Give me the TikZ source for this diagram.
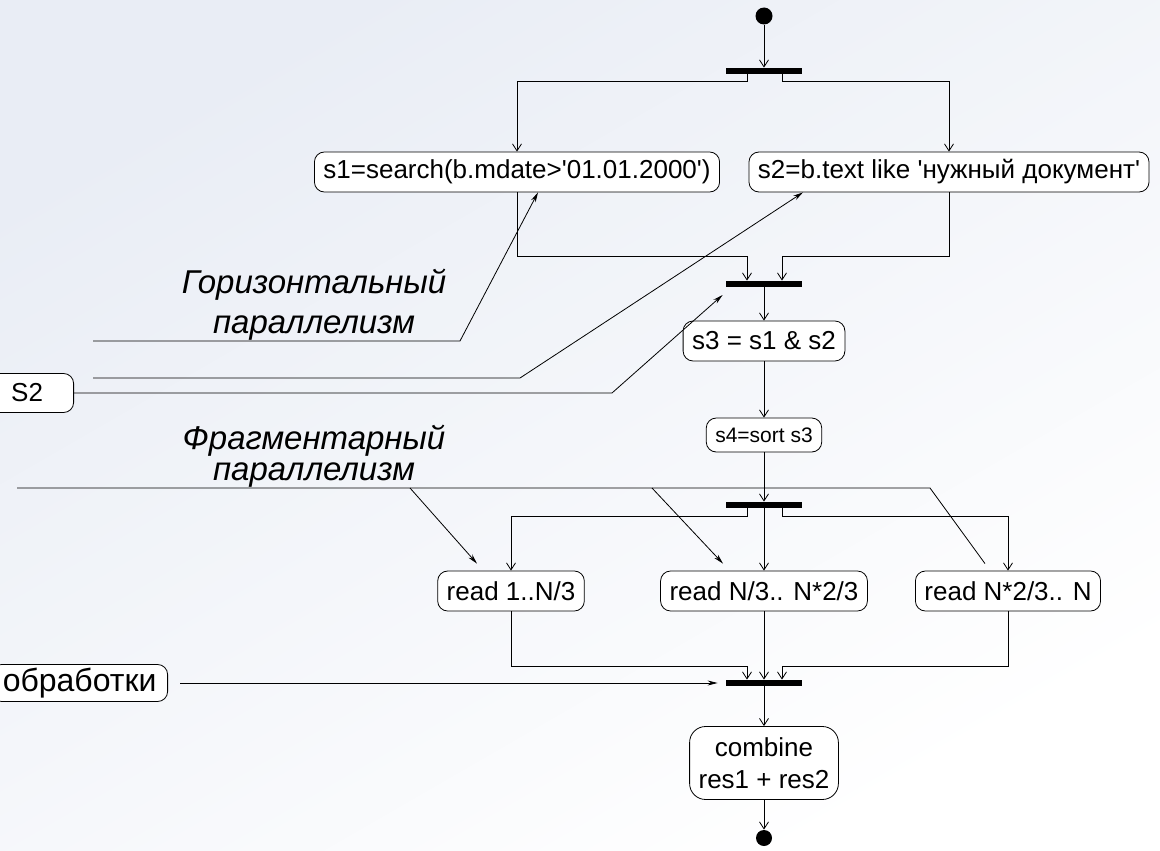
\documentclass[tikz,border=0pt]{standalone}
\usepackage{fontspec}
\setmainfont{Liberation Sans}
\usetikzlibrary{arrows.meta}
\definecolor{bgtop}{RGB}{233,237,245}

\tikzset{
  act/.style={draw,fill=white,rounded corners=10pt,inner xsep=9pt,inner ysep=0pt,minimum height=40pt,font=\fontsize{26}{32}\selectfont},
  bar/.style={fill=black,inner sep=0pt,minimum width=76pt,minimum height=6pt},
  flow/.style={-{Straight Barb[length=7pt,width=9pt]}},
  note/.style={-{Stealth[length=10pt,width=5pt]}},
  dot/.style={circle,fill=black,inner sep=0pt,minimum size=17pt},
  remark/.style={font=\fontsize{33}{31}\selectfont\itshape,align=center}
}

\begin{document}
\begin{tikzpicture}[x=1pt,y=-1pt,line width=0.8pt]
\useasboundingbox (0,0) rectangle (1160,851);
\shade[top color=bgtop,bottom color=white,shading angle=30] (0,0) rectangle (1160,851);
\clip (0,0) rectangle (1160,851);

% main flow
\node[dot] (start) at (764,16) {};
\node[bar] (bar1) at (764,71) {};
\node[act] (s1) at (517,172) {s1=search(b.mdate>\textquotesingle 01.01.2000\textquotesingle)};
\node[act] (s2) at (949,172) {s2=b.text like \textquotesingle нужный документ\textquotesingle};
\node[bar] (bar2) at (764,284) {};
\node[act] (s3) at (764,341) {s3 = s1 \& s2};
\node[act,minimum height=34pt,font=\fontsize{21}{23}\selectfont] (s4) at (764,435) {s4=sort s3};
\node[bar] (bar3) at (764,505) {};
\node[act] (read1) at (511,591) {read 1..N/3};
\node[act] (read2) at (764,591) {read N/3.. N*2/3};
\node[act] (read3) at (1008,591) {read N*2/3.. N};
\node[bar] (bar4) at (764,683) {};
\node[act,rounded corners=16pt,minimum height=73pt,align=center] (comb) at (764,763) {combine\\res1 + res2};
\node[dot,minimum size=16pt] (stop) at (764,838) {};

\draw[flow] (start) -- (bar1);
\draw[flow] ([xshift=-17pt]bar1.south) -- ++(0,7) -| (s1);
\draw[flow] ([xshift=18pt]bar1.south) -- ++(0,7) -| (s2);
\draw[flow] (s1.south) -- ++(0,64) -| ([xshift=-17pt]bar2.north);
\draw[flow] (s2.south) -- ++(0,64) -| ([xshift=18pt]bar2.north);
\draw[flow] (bar2) -- (s3);
\draw[flow] (s3) -- (s4);
\draw[flow] (s4) -- (bar3);
\draw[flow] ([xshift=-17pt]bar3.south) -- ++(0,8) -| (read1);
\draw[flow] (bar3) -- (read2);
\draw[flow] ([xshift=18pt]bar3.south) -- ++(0,8) -| (read3);
\draw[flow] (read1.south) -- ++(0,55) -| ([xshift=-17pt]bar4.north);
\draw[flow] (read2) -- (bar4);
\draw[flow] (read3.south) -- ++(0,55) -| ([xshift=18pt]bar4.north);
\draw[flow] (bar4) -- (comb);
\draw[flow] (comb) -- (stop);

% remarks on the left
\node[remark] (hor) at (314,305) {Горизонтальный\\[9pt]параллелизм};
\node[remark] (frag) at (314,456) {Фрагментарный\\параллелизм};
\node[act,anchor=east,minimum width=93pt,minimum height=39pt] (src) at (74,393) {S2};
\node[act,anchor=east,minimum width=176pt,minimum height=37pt,font=\fontsize{32}{34}\selectfont] (obr) at (168,683) {обработки};

\coordinate (h1) at (93,341);
\coordinate (h1b) at (460,341);
\coordinate (h2) at (93,378);
\coordinate (h2b) at (520,378);
\coordinate (h3b) at (612,393);
\draw[note] (h1) -- (h1b) -- ([xshift=21pt]s1.south);
\draw[note] (h2) -- (h2b) -- ([xshift=-146pt]s2.south);
\draw[note] (src) -- (h3b) -- ([shift={(-3,11)}]bar2.west);

\coordinate (f0) at (17,488);
\coordinate (f1) at (410,488);
\coordinate (f2) at (652,488);
\coordinate (f3) at (930,488);
\draw (f0) -- (f3) -- ([shift={(-23,-7)}]read3.north);
\draw[note] (f1) -- ([shift={(-34,-7)}]read1.north);
\draw[note] (f2) -- ([shift={(-41,-7)}]read2.north);
\draw[note,shorten <=12pt,shorten >=8pt] (obr) -- (bar4);
\end{tikzpicture}
\end{document}
